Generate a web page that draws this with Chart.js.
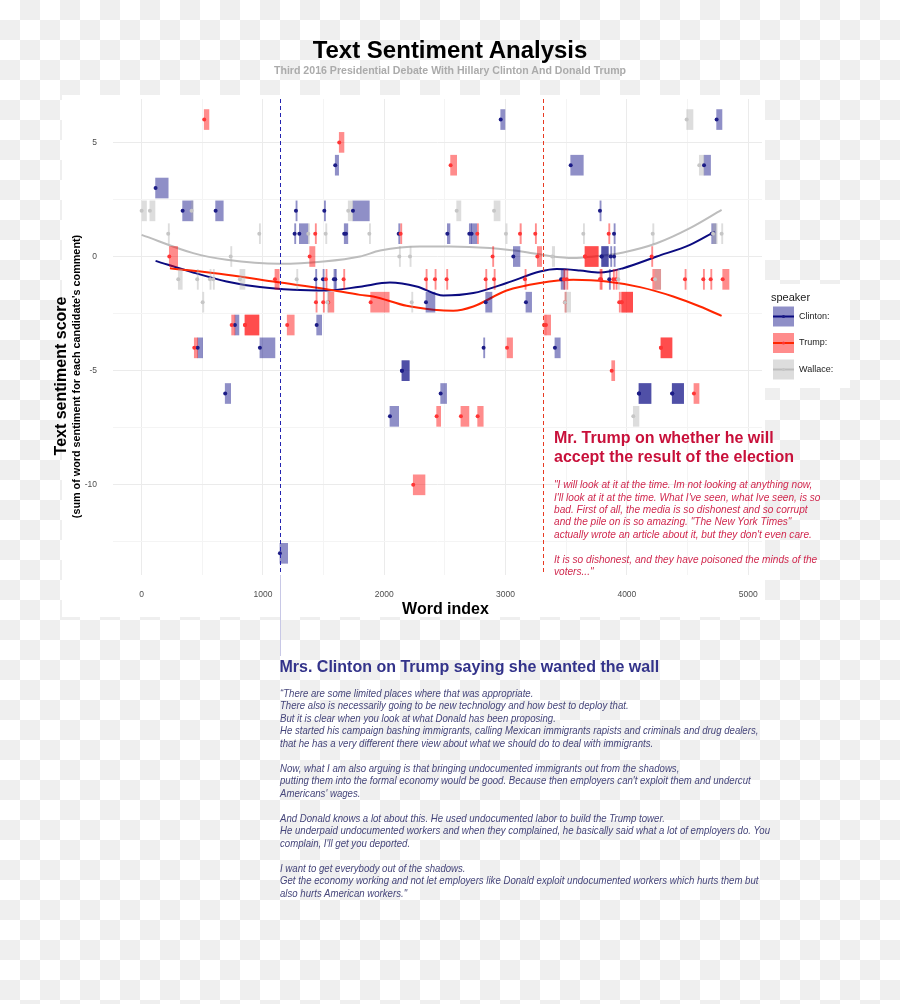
<!DOCTYPE html>
<html>
<head>
<meta charset="utf-8">
<title>Text Sentiment Analysis</title>
<script src="https://cdn.jsdelivr.net/npm/chart.js@4.4.1/dist/chart.umd.min.js"></script>
<style>
  html, body { margin: 0; padding: 0; }
  body {
    width: 900px;
    height: 1004px;
    position: relative;
    overflow: hidden;
    background: repeating-conic-gradient(#efefef 0% 25%, #ffffff 0% 50%) 0 0 / 40px 40px;
    font-family: "Liberation Sans", Arial, Helvetica, sans-serif;
  }
  #panel { position: absolute; left: 62px; top: 95px; width: 703px; height: 522px; background: #fff; }
  #legend-bg { position: absolute; left: 765px; top: 284px; width: 85px; height: 104px; background: #fff; }
  #chart { position: absolute; left: 0; top: 0; }
  .txt { position: absolute; white-space: pre; }
  #title { left: 0; width: 900px; top: 35.5px; text-align: center; font: bold 24px/27px "Liberation Sans", Arial, sans-serif; color: #000; }
  #subtitle { left: 0; width: 900px; top: 64.3px; text-align: center; font: bold 10.6px/12px "Liberation Sans", Arial, sans-serif; color: #ababab; }
  #ytitle { left: -139px; top: 367.5px; width: 400px; height: 16px; text-align: center; font: bold 16px/16px "Liberation Sans", Arial, sans-serif; color: #000; transform: rotate(-90deg); }
  #ysub { left: -124.2px; top: 371px; width: 400px; height: 11px; text-align: center; font: bold 10.8px/11px "Liberation Sans", Arial, sans-serif; color: #000; transform: rotate(-90deg); }
  #xtitle { left: 345.5px; top: 600.4px; width: 200px; text-align: center; font: bold 16px/18px "Liberation Sans", Arial, sans-serif; color: #000; }
  #trump-head { left: 554px; top: 429.2px; font: bold 16px/18.5px "Liberation Sans", Arial, sans-serif; color: #c8103a; }
  #trump-quote { left: 553.5px; top: 478.1px; font: italic 10.6px/12.43px "Liberation Sans", Arial, sans-serif; color: #d0284e; transform: scaleX(0.955); transform-origin: 0 0; }
  #clinton-head { left: 279.5px; top: 657.8px; font: bold 16px/18px "Liberation Sans", Arial, sans-serif; color: #33338a; }
  #clinton-quote { left: 279.5px; top: 687.6px; font: italic 10.3px/12.5px "Liberation Sans", Arial, sans-serif; color: #45457a; transform: scaleX(0.934); transform-origin: 0 0; }
</style>
</head>
<body>
<div id="panel"></div>
<div id="legend-bg"></div>
<canvas id="chart" width="900" height="1004"></canvas>

<div class="txt" id="title">Text Sentiment Analysis</div>
<div class="txt" id="subtitle">Third 2016 Presidential Debate With Hillary Clinton And Donald Trump</div>
<div class="txt" id="ytitle">Text sentiment score</div>
<div class="txt" id="ysub">(sum of word sentiment for each candidate's comment)</div>
<div class="txt" id="xtitle">Word index</div>

<div class="txt" id="trump-head">Mr. Trump on whether he will
accept the result of the election</div>
<div class="txt" id="trump-quote">"I will look at it at the time. Im not looking at anything now,
I'll look at it at the time. What I've seen, what Ive seen, is so
bad. First of all, the media is so dishonest and so corrupt
and the pile on is so amazing. "The New York Times"
actually wrote an article about it, but they don't even care.

It is so dishonest, and they have poisoned the minds of the
voters..."</div>

<div class="txt" id="clinton-head">Mrs. Clinton on Trump saying she wanted the wall</div>
<div class="txt" id="clinton-quote">“There are some limited places where that was appropriate.
There also is necessarily going to be new technology and how best to deploy that.
But it is clear when you look at what Donald has been proposing.
He started his campaign bashing immigrants, calling Mexican immigrants rapists and criminals and drug dealers,
that he has a very different there view about what we should do to deal with immigrants.

Now, what I am also arguing is that bringing undocumented immigrants out from the shadows,
putting them into the formal economy would be good. Because then employers can't exploit them and undercut
Americans' wages.

And Donald knows a lot about this. He used undocumented labor to build the Trump tower.
He underpaid undocumented workers and when they complained, he basically said what a lot of employers do. You
complain, I'll get you deported.

I want to get everybody out of the shadows.
Get the economy working and not let employers like Donald exploit undocumented workers which hurts them but
also hurts American workers."</div>

<script>
// comments: word index where each comment starts / ends, and its sentiment score
const clintonStart = [2960, 4740, 1596, 3537, 4636, 115, 338, 610, 1272, 1506, 1742, 3778,
  1261, 1300, 1670, 1684, 2119, 2520, 2701, 2720, 3894, 4699,
  3064, 3792, 3792, 3866, 3894,
  1434, 1495, 1585, 1596, 3458, 3855,
  2344, 2836, 3168, 769, 1443, 462, 975, 2819, 3407,
  2146, 2146, 689, 2465, 4100, 4100, 4374, 4374, 2047, 1140];
const clintonEnd = [2995, 4784, 1624, 3641, 4690, 219, 423, 673, 1282, 1516, 1877, 3788,
  1271, 1371, 1680, 1700, 2129, 2542, 2720, 2762, 3904, 4735,
  3119, 3847, 3847, 3876, 3904,
  1444, 1505, 1595, 1606, 3490, 3865,
  2418, 2888, 3215, 802, 1484, 503, 1099, 2829, 3451,
  2206, 2206, 734, 2514, 4199, 4199, 4468, 4468, 2119, 1204];
const clintonScore = [6, 6, 4, 4, 4, 3, 2, 2, 2, 2, 2, 2,
  1, 1, 1, 1, 1, 1, 1, 1, 1, 1,
  0, 0, 0, 0, 0,
  -1, -1, -1, -1, -1, -1,
  -2, -2, -2, -3, -3, -4, -4, -4, -4,
  -5, -5, -6, -6, -6, -6, -6, -6, -7, -13];

const trumpStart = [516, 1629, 2547,
  1431, 2135, 2767, 3119, 3245, 3850,
  228, 1385, 2893, 3262, 3655, 3655, 4204,
  1099, 1519, 1665, 2344, 2418, 2514, 2836, 2905, 3160, 3481, 3504,
  3778, 3787, 3888, 3910, 4213, 4479, 4630, 4691, 4790,
  1437, 1497, 1538, 1888, 3490, 3937, 3957, 3957,
  742, 852, 852, 1200, 3317, 3333,
  434, 3012, 4281, 4281, 3875, 4553, 2432, 2632, 2770, 2239];
const trumpEnd = [555, 1668, 2597,
  1441, 2145, 2777, 3130, 3255, 3860,
  297, 1429, 2903, 3298, 3764, 3764, 4214,
  1134, 1529, 1675, 2354, 2428, 2524, 2846, 2915, 3170, 3491, 3514,
  3788, 3797, 3898, 3920, 4279, 4489, 4640, 4701, 4842,
  1447, 1507, 1585, 2041, 3500, 3947, 4048, 4048,
  769, 967, 967, 1258, 3333, 3372,
  462, 3058, 4372, 4372, 3900, 4595, 2465, 2698, 2816, 2336];
const trumpScore = [6, 5, 4,
  1, 1, 1, 1, 1, 1,
  0, 0, 0, 0, 0, 0, 0,
  -1, -1, -1, -1, -1, -1, -1, -1, -1, -1, -1,
  -1, -1, -1, -1, -1, -1, -1, -1, -1,
  -2, -2, -2, -2, -2, -2, -2, -2,
  -3, -3, -3, -3, -3, -3,
  -4, -4, -4, -4, -5, -6, -7, -7, -7, -10];

const wallaceStart = [4493, 4597, 0, 68, 412, 1703, 2597, 2905,
  219, 970, 1374, 1517, 1877, 3003, 3641, 4213, 4710, 4781,
  734, 2124, 2212, 3385,
  302, 458, 563, 590, 810, 1278, 3929, 4232,
  503, 1530, 2226, 3490, 4053];
const wallaceEnd = [4545, 4636, 40, 110, 423, 1740, 2632, 2955,
  229, 980, 1384, 1527, 1887, 3013, 3651, 4223, 4745, 4791,
  744, 2134, 2222, 3405,
  335, 468, 573, 600, 852, 1288, 3939, 4279,
  513, 1545, 2236, 3537, 4100];
const wallaceScore = [6, 4, 2, 2, 2, 2, 2, 2,
  1, 1, 1, 1, 1, 1, 1, 1, 1, 1,
  0, 0, 0, 0,
  -1, -1, -1, -1, -1, -1, -1, -1,
  -2, -2, -2, -2, -7];

// smoothed trend per speaker
const clintonTrendX = [115, 425, 700, 975, 1250, 1525, 1800, 2047, 2267, 2487, 2734, 3009, 3284, 3421, 3613, 3778, 3970, 4246, 4520, 4726];
const clintonTrendY = [-0.19, -0.70, -1.09, -1.34, -1.46, -1.49, -1.32, -1.14, -1.31, -1.71, -1.60, -1.16, -0.66, -0.55, -0.61, -0.70, -0.51, 0.0, 0.51, 1.09];
const trumpTrendX = [233, 700, 1113, 1525, 1800, 1909, 2184, 2404, 2569, 2734, 3009, 3284, 3558, 3833, 4108, 4382, 4603, 4781];
const trumpTrendY = [-0.51, -0.80, -1.12, -1.43, -1.68, -1.75, -2.16, -2.33, -2.38, -2.19, -1.49, -1.16, -1.02, -1.09, -1.34, -1.75, -2.19, -2.60];
const wallaceTrendX = [0, 425, 700, 1140, 1500, 1800, 1966, 2294, 2542, 2871, 3173, 3339, 3558, 3723, 3970, 4246, 4520, 4781];
const wallaceTrendY = [0.95, 0.15, -0.14, -0.32, -0.22, 0.0, 0.26, 0.44, 0.44, 0.37, 0.19, 0.04, -0.07, 0.0, 0.18, 0.58, 1.24, 2.04];

// quoted comments marked with dashed lines
const clintonQuoteAt = 1140;
const trumpQuoteAt = 3311;

// axes
const xGridValues = [0, 500, 1000, 1500, 2000, 2500, 3000, 3500, 4000, 4500, 5000];
const xTickLabels = [0, 1000, 2000, 3000, 4000, 5000];
const yGridValues = [-12.5, -10, -7.5, -5, -2.5, 0, 2.5, 5];
const yTickLabels = [-10, -5, 0, 5];
const xRange = [-236, 5114];
const yRange = [-13.95, 6.9];

const speakers = [
  { name: "Clinton:", line: "#0b0b80", fill: "rgba(0, 0, 128, 0.44)", dot: "#1c1c86" },
  { name: "Trump:", line: "#ff2600", fill: "rgba(255, 0, 0, 0.45)", dot: "#ff3535" },
  { name: "Wallace:", line: "#bdbdbd", fill: "rgba(170, 170, 170, 0.4)", dot: "#c6c6c6" }
];

function rectSet(sp, starts, ends, scores) {
  return {
    type: "bar",
    label: sp.name,
    indexAxis: "y",
    data: starts.map((s, i) => ({ x: [s, ends[i]], y: scores[i] })),
    backgroundColor: sp.fill,
    borderWidth: 0,
    barThickness: 20,
    grouped: false,
    order: 2
  };
}

function pointSet(sp, starts, scores) {
  return {
    type: "scatter",
    label: sp.name,
    data: starts.map((s, i) => ({ x: s, y: scores[i] })),
    backgroundColor: sp.dot,
    borderWidth: 0,
    pointRadius: 2,
    order: 1
  };
}

function trendSet(sp, xs, ys) {
  return {
    type: "line",
    label: sp.name,
    data: xs.map((x, i) => ({ x, y: ys[i] })),
    borderColor: sp.line,
    borderWidth: 2,
    pointRadius: 0,
    fill: false,
    cubicInterpolationMode: "monotone",
    order: 3
  };
}

const quoteLines = {
  id: "quoteLines",
  afterDatasetsDraw(chart) {
    const { ctx, chartArea: a, scales } = chart;
    const note = document.getElementById("clinton-head");
    const bx = Math.round(scales.x.getPixelForValue(clintonQuoteAt)) + 0.5;
    const rx = Math.round(scales.x.getPixelForValue(trumpQuoteAt)) + 0.5;
    ctx.save();
    ctx.lineWidth = 1;
    ctx.strokeStyle = "#c8c8e6";
    ctx.beginPath();
    ctx.moveTo(bx, a.bottom);
    ctx.lineTo(bx, note.offsetTop - 2);
    ctx.stroke();
    ctx.setLineDash([4, 3]);
    ctx.strokeStyle = "#2323b0";
    ctx.beginPath();
    ctx.moveTo(bx, a.top);
    ctx.lineTo(bx, a.bottom);
    ctx.stroke();
    ctx.strokeStyle = "#e83a22";
    ctx.beginPath();
    ctx.moveTo(rx, a.top);
    ctx.lineTo(rx, a.bottom);
    ctx.stroke();
    ctx.restore();
  }
};

const speakerLegend = {
  id: "speakerLegend",
  afterDraw(chart) {
    const { ctx, chartArea: a } = chart;
    const mid = (a.top + a.bottom) / 2;
    const left = a.right + 9;
    ctx.save();
    ctx.fillStyle = "#1a1a1a";
    ctx.font = "11px 'Liberation Sans', Arial, sans-serif";
    ctx.textBaseline = "alphabetic";
    ctx.fillText("speaker", left, mid - 36);
    speakers.forEach((sp, i) => {
      const top = mid - 30.5 + i * 26.5;
      const kx = left + 2;
      ctx.fillStyle = sp.fill;
      ctx.fillRect(kx, top, 21, 20);
      ctx.strokeStyle = sp.line;
      ctx.lineWidth = 2;
      ctx.beginPath();
      ctx.moveTo(kx, top + 10);
      ctx.lineTo(kx + 21, top + 10);
      ctx.stroke();
      ctx.fillStyle = sp.dot;
      ctx.beginPath();
      ctx.arc(kx + 10.5, top + 10, 1.6, 0, Math.PI * 2);
      ctx.fill();
      ctx.fillStyle = "#1a1a1a";
      ctx.font = "9px 'Liberation Sans', Arial, sans-serif";
      ctx.textBaseline = "middle";
      ctx.fillText(sp.name, kx + 26, top + 10);
    });
    ctx.restore();
  }
};

const tickFont = { family: "'Liberation Sans', Arial, sans-serif", size: 8.5 };

new Chart(document.getElementById("chart"), {
  type: "scatter",
  data: {
    datasets: [
      trendSet(speakers[2], wallaceTrendX, wallaceTrendY),
      trendSet(speakers[1], trumpTrendX, trumpTrendY),
      trendSet(speakers[0], clintonTrendX, clintonTrendY),
      rectSet(speakers[2], wallaceStart, wallaceEnd, wallaceScore),
      rectSet(speakers[1], trumpStart, trumpEnd, trumpScore),
      rectSet(speakers[0], clintonStart, clintonEnd, clintonScore),
      pointSet(speakers[2], wallaceStart, wallaceScore),
      pointSet(speakers[1], trumpStart, trumpScore),
      pointSet(speakers[0], clintonStart, clintonScore)
    ]
  },
  options: {
    responsive: false,
    devicePixelRatio: 1,
    animation: false,
    events: [],
    layout: { padding: { left: 0, top: 99, right: 138, bottom: 399 } },
    plugins: {
      legend: { display: false },
      tooltip: { enabled: false },
      title: { display: false }
    },
    scales: {
      x: {
        type: "linear",
        min: xRange[0],
        max: xRange[1],
        offset: false,
        beginAtZero: false,
        border: { display: false },
        afterBuildTicks: (scale) => {
          scale.ticks = xGridValues.map((v) => ({ value: v }));
        },
        afterFit: (scale) => {
          scale.height = 30;
        },
        grid: {
          offset: false,
          drawTicks: false,
          color: (c) => (c.tick && xTickLabels.includes(c.tick.value) ? "#ebebeb" : "#f4f4f4"),
          lineWidth: 1
        },
        ticks: {
          autoSkip: false,
          maxRotation: 0,
          padding: 15,
          color: "#4d4d4d",
          font: tickFont,
          callback: (v) => (xTickLabels.includes(v) ? String(v) : "")
        }
      },
      y: {
        type: "linear",
        min: yRange[0],
        max: yRange[1],
        offset: false,
        border: { display: false },
        afterBuildTicks: (scale) => {
          scale.ticks = yGridValues.map((v) => ({ value: v }));
        },
        afterFit: (scale) => {
          scale.width = 113;
        },
        grid: {
          offset: false,
          drawTicks: false,
          color: (c) => (c.tick && yTickLabels.includes(c.tick.value) ? "#ebebeb" : "#f4f4f4"),
          lineWidth: 1
        },
        ticks: {
          autoSkip: false,
          padding: 16,
          color: "#4d4d4d",
          font: tickFont,
          callback: (v) => (yTickLabels.includes(v) ? String(v) : "")
        }
      }
    }
  },
  plugins: [quoteLines, speakerLegend]
});
</script>
</body>
</html>
